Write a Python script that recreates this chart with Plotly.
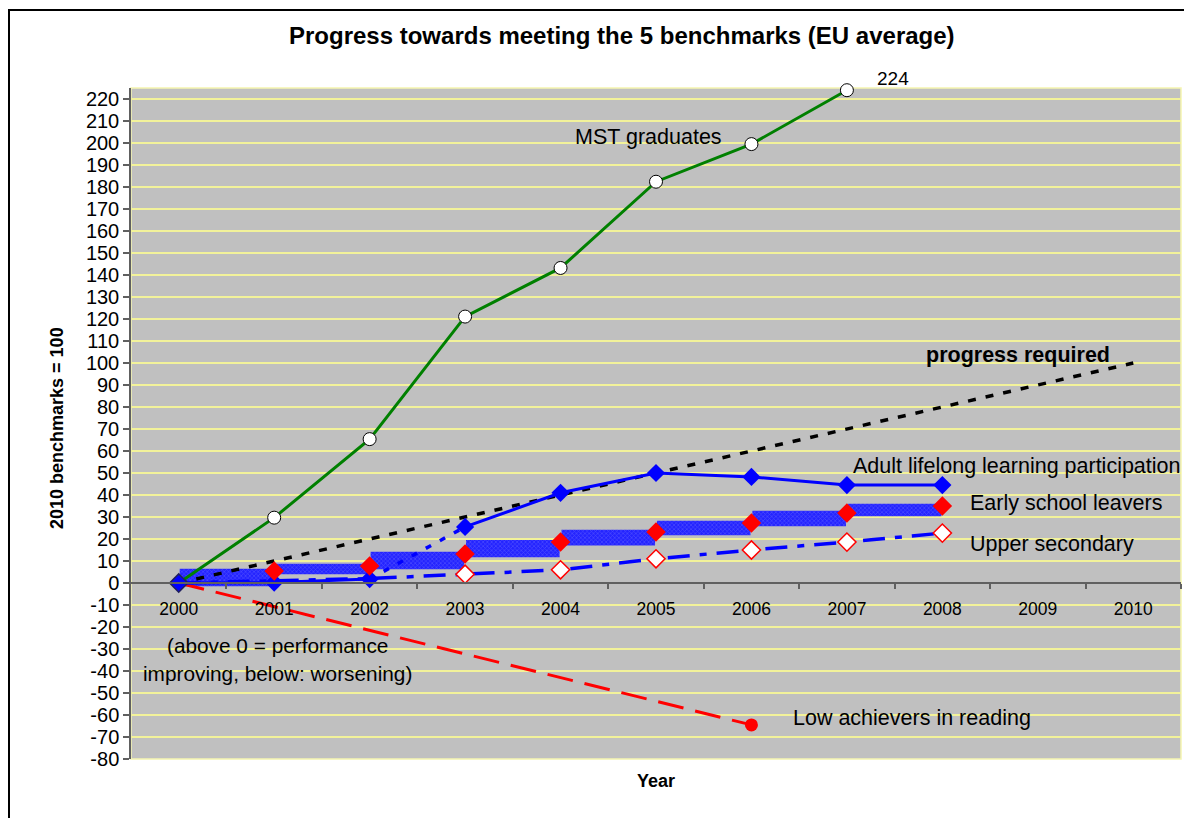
import plotly.graph_objects as go

years = [2000, 2001, 2002, 2003, 2004, 2005, 2006, 2007, 2008, 2009, 2010]
mst_years = [2000, 2001, 2002, 2003, 2004, 2005, 2006, 2007]
mst = [0, 29.7, 65.4, 121.1, 143.2, 182.4, 199.5, 224]
req_years = [2000, 2001, 2002, 2003, 2004, 2005, 2006, 2007, 2008, 2009, 2010]
required = [0, 10, 20, 30, 40, 50, 60, 70, 80, 90, 100]
adult_years = [2000, 2001, 2002, 2003, 2004, 2005, 2006, 2007, 2008]
adult = [0, 0.2, 1.8, 25.5, 41, 50, 48.2, 44.5, 44.5]
esl_years = [2000, 2001, 2002, 2003, 2004, 2005, 2006, 2007, 2008]
esl = [0, 5.5, 7.7, 13.2, 18.6, 23.2, 27.3, 31.8, 35]
upper_years = [2000, 2001, 2002, 2003, 2004, 2005, 2006, 2007, 2008]
upper = [0, 1.0, 2.0, 4.0, 6.0, 11.0, 15.0, 18.6, 22.7]
low_years = [2000, 2006]
low = [0, -64.5]
y_tickvals = [-80, -70, -60, -50, -40, -30, -20, -10, 0, 10, 20, 30, 40, 50, 60,
              70, 80, 90, 100, 110, 120, 130, 140, 150, 160, 170, 180, 190, 200,
              210, 220]
y_ticktext = [str(v) for v in y_tickvals]
x_ticktext = [str(y) for y in years]

FONT = "Liberation Sans, Arial, sans-serif"
BLUE = "#0000FF"

fig = go.Figure()

# hatched band for early school leavers (between consecutive years)
band_x = [(esl_years[i] + esl_years[i + 1]) / 2 for i in range(len(esl) - 1)]
band_base = [min(esl[i], esl[i + 1]) - 1.5 for i in range(len(esl) - 1)]
band_h = [abs(esl[i + 1] - esl[i]) + 2.5 for i in range(len(esl) - 1)]
fig.add_trace(go.Bar(
    x=band_x, y=band_h, base=band_base, width=0.98,
    marker=dict(color="#3030FF", line=dict(width=0),
                pattern=dict(shape="x", size=3, solidity=0.4,
                             fgcolor="#7070FF", bgcolor="#2424FF")),
    showlegend=False, hoverinfo="skip"))

# progress required
fig.add_trace(go.Scatter(x=req_years, y=required, mode="lines",
                         line=dict(color="black", width=3.5, dash="8px,10px"),
                         showlegend=False))

# low achievers in reading
fig.add_trace(go.Scatter(x=low_years, y=low, mode="lines",
                         line=dict(color="#FF0000", width=3, dash="26px,12px"),
                         showlegend=False))
fig.add_trace(go.Scatter(x=low_years[-1:], y=low[-1:], mode="markers",
                         marker=dict(color="#FF0000", size=13, symbol="circle"),
                         showlegend=False))

# upper secondary
fig.add_trace(go.Scatter(x=upper_years, y=upper, mode="lines",
                         line=dict(color=BLUE, width=3.5, dash="22px,10px,7px,10px"),
                         showlegend=False))

# adult lifelong learning: solid parts and dashed break
fig.add_trace(go.Scatter(x=adult_years[:3], y=adult[:3], mode="lines+markers",
                         line=dict(color=BLUE, width=3),
                         marker=dict(symbol="diamond", size=14, color=BLUE),
                         showlegend=False))
fig.add_trace(go.Scatter(x=adult_years[2:4], y=adult[2:4], mode="lines",
                         line=dict(color=BLUE, width=3.5, dash="6px,10px"),
                         showlegend=False))
fig.add_trace(go.Scatter(x=adult_years[3:], y=adult[3:], mode="lines+markers",
                         line=dict(color=BLUE, width=3),
                         marker=dict(symbol="diamond", size=14, color=BLUE),
                         showlegend=False))

# upper secondary markers
fig.add_trace(go.Scatter(x=upper_years[3:], y=upper[3:], mode="markers",
                         marker=dict(symbol="diamond", size=14, color="white",
                                     line=dict(color="#FF0000", width=1.5)),
                         showlegend=False))

# early school leavers markers
fig.add_trace(go.Scatter(x=esl_years[1:], y=esl[1:], mode="markers",
                         marker=dict(symbol="diamond", size=15, color="#FF0000"),
                         showlegend=False))

# MST graduates
fig.add_trace(go.Scatter(x=mst_years, y=mst, mode="lines+markers",
                         line=dict(color="#008000", width=3),
                         marker=dict(symbol="circle", size=13, color="white",
                                     line=dict(color="black", width=1)),
                         cliponaxis=False, showlegend=False))

# origin marker
fig.add_trace(go.Scatter(x=adult_years[:1], y=adult[:1], mode="markers",
                         marker=dict(symbol="diamond", size=14, color=BLUE,
                                     line=dict(color="#202060", width=1.5)),
                         showlegend=False))

# page offset (body margin) compensation
OFF = 8
PAGE_W, PAGE_H = 1192, 826
W, H = PAGE_W - 2 * OFF, PAGE_H - 2 * OFF
PL, PT, PR, PB = 131, 88, 1181, 759  # plot area edges in page pixels
L, T = PL - OFF, PT - OFF
R = (OFF + W) - PR
B = (OFF + H) - PB
pw, ph = PR - PL, PB - PT
ymin, ymax = -80, 225
zero_pos = (0 - ymin) / (ymax - ymin)


def px(x):
    return (x - PL) / pw


def py(y):
    return (PB - y) / ph


fig.update_layout(
    width=W, height=H,
    margin=dict(l=L, r=R, t=T, b=B, pad=0),
    paper_bgcolor="white", plot_bgcolor="#C0C0C0",
    barmode="overlay",
    font=dict(family=FONT, color="black"),
    xaxis=dict(range=[1999.5, 2010.5], type="linear", tickvals=years,
               ticktext=x_ticktext, showgrid=False, zeroline=False,
               anchor="free", position=zero_pos, showline=True,
               linecolor="#606060", linewidth=1.5, ticks="",
               ticklabelstandoff=10,
               tickfont=dict(size=17.5, family=FONT)),
    xaxis2=dict(range=[1999.5, 2010.5], type="linear", overlaying="x",
                tickvals=[y + 0.5 for y in years], showticklabels=False,
                showgrid=False, zeroline=False, anchor="free", position=zero_pos,
                ticks="outside", ticklen=5, tickcolor="#606060", tickwidth=1.5,
                showline=False),
    yaxis=dict(range=[ymin, ymax], tickvals=y_tickvals, ticktext=y_ticktext,
               showgrid=True, gridcolor="#F2F29A", gridwidth=1.5, zeroline=False,
               showline=True, linecolor="#606060", linewidth=1.5,
               ticks="outside", ticklen=6, tickcolor="#606060", tickwidth=1.5,
               tickfont=dict(size=20, family=FONT)),
)

# dummy trace to activate xaxis2
fig.add_trace(go.Scatter(x=[2000], y=[0], xaxis="x2", mode="markers",
                         marker=dict(opacity=0), showlegend=False, hoverinfo="skip"))

shapes = [
    dict(type="rect", xref="paper", yref="paper", x0=0, x1=1, y0=0, y1=1,
         line=dict(color="#F5F5B0", width=1.5), layer="below"),
    dict(type="rect", xref="paper", yref="paper", x0=px(9), x1=px(1200),
         y0=py(840), y1=py(10), line=dict(color="black", width=2)),
]
fig.update_layout(shapes=shapes)

ann = []
ann.append(dict(text="<b>Progress towards meeting the 5 benchmarks (EU average)</b>",
                x=px(622), y=py(36), xref="paper", yref="paper", showarrow=False,
                xanchor="center", yanchor="middle",
                font=dict(size=24, family=FONT)))
ann.append(dict(text="<b>Year</b>", x=px(656), y=py(781), xref="paper", yref="paper",
                xanchor="center", yanchor="middle",
                showarrow=False, font=dict(size=18, family=FONT)))
ann.append(dict(text="<b>2010 benchmarks = 100</b>", x=px(57), y=py(428), xref="paper",
                yref="paper", showarrow=False, textangle=-90,
                xanchor="center", yanchor="middle",
                font=dict(size=18, family=FONT)))

labels = [
    ("224", 893, 78, "center", 19, False),
    ("MST graduates", 648, 137, "center", 21.5, False),
    ("progress required", 1018, 355, "center", 21.5, True),
    ("Adult lifelong learning participation", 851, 466, "left", 21.5, False),
    ("Early school leavers", 968, 503, "left", 21.5, False),
    ("Upper secondary", 968, 544, "left", 21.5, False),
    ("(above 0 = performance", 277, 645, "center", 20.8, False),
    ("improving, below: worsening)", 277, 673, "center", 20.8, False),
    ("Low achievers in reading", 791, 718, "left", 21.5, False),
]
for t, x, y, xa, s, b in labels:
    ann.append(dict(text=f"<b>{t}</b>" if b else t, x=px(x), y=py(y),
                    xref="paper", yref="paper", xanchor=xa, yanchor="middle",
                    showarrow=False, font=dict(size=s, family=FONT)))
fig.update_layout(annotations=ann)

fig.write_html("out.html")
